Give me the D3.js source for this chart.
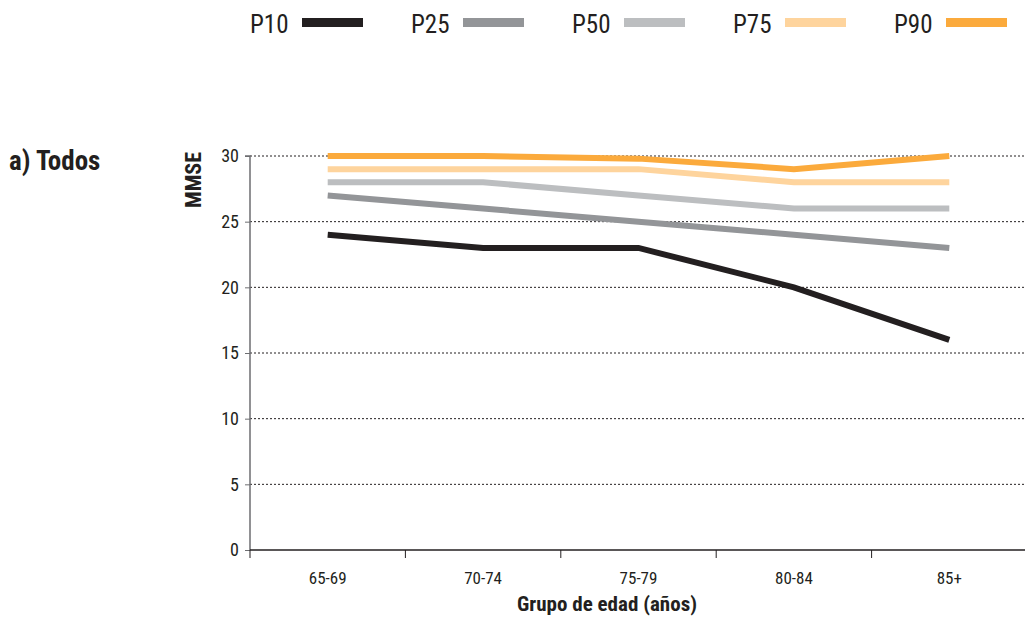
<!DOCTYPE html>
<html>
<head>
<meta charset="utf-8">
<script src="https://cdn.jsdelivr.net/npm/d3@7"></script>
<style>
  html, body { margin: 0; padding: 0; background: #fff; }
  svg { display: block; }
  .cond { font-family: "Liberation Sans Narrow", "Roboto Condensed", "Liberation Sans", sans-serif; }
</style>
</head>
<body>
<svg id="chart" width="1025" height="618"></svg>
<script>
// Age groups and MMSE percentiles
const ageGroups = ["65-69", "70-74", "75-79", "80-84", "85+"];
const p10 = [24, 23, 23, 20, 16];
const p25 = [27, 26, 25, 24, 23];
const p50 = [28, 28, 27, 26, 26];
const p75 = [29, 29, 29, 28, 28];
const p90 = [30, 30, 29.8, 29, 30];
const seriesNames = ["P10", "P25", "P50", "P75", "P90"];
const seriesColors = ["#231f20", "#939598", "#bcbec0", "#fed49d", "#fbaa3c"];
const yTicks = [0, 5, 10, 15, 20, 25, 30];

const series = [p10, p25, p50, p75, p90].map((values, i) => ({
  name: seriesNames[i], color: seriesColors[i], values
}));

const svg = d3.select("#chart");
const plotLeft = 250, plotRight = 1027, plotTop = 156, plotBottom = 550;

const x = d3.scaleBand().domain(ageGroups).range([plotLeft, plotRight]);
const y = d3.scaleLinear().domain([0, 30]).range([plotBottom, plotTop]);

// dotted gridlines
svg.append("g").selectAll("line")
  .data(yTicks.filter(d => d > 0))
  .join("line")
  .attr("x1", plotLeft).attr("x2", 1025)
  .attr("y1", d => y(d)).attr("y2", d => y(d))
  .attr("stroke", "#231f20").attr("stroke-width", 1)
  .attr("stroke-dasharray", "2,2");

// y axis
const yAxis = svg.append("g")
  .attr("transform", `translate(${plotLeft},0)`)
  .call(d3.axisLeft(y).tickValues(yTicks).tickSize(5).tickPadding(6));
yAxis.select(".domain").attr("stroke", "#6d6e71").attr("stroke-width", 1.5)
  .attr("d", `M-5,${plotTop}H0V${plotBottom}`);
yAxis.selectAll(".tick line").attr("stroke", "#6d6e71");
yAxis.selectAll("text").attr("class", "cond")
  .style("font-size", "18px").attr("fill", "#231f20");

// x axis with ticks on category boundaries
const xAxis = svg.append("g").attr("transform", `translate(0,${plotBottom})`);
xAxis.append("line").attr("x1", plotLeft).attr("x2", 1025).attr("y1", 0).attr("y2", 0)
  .attr("stroke", "#231f20").attr("stroke-width", 1.5);
const bounds = ageGroups.map(d => x(d));
xAxis.selectAll("line.tk").data(bounds).join("line").attr("class", "tk")
  .attr("x1", d => d).attr("x2", d => d).attr("y1", 0).attr("y2", 8)
  .attr("stroke", "#231f20").attr("stroke-width", 1);
xAxis.selectAll("text").data(ageGroups).join("text")
  .attr("class", "cond")
  .attr("x", d => x(d) + x.bandwidth() / 2)
  .attr("y", 34)
  .attr("text-anchor", "middle")
  .style("font-size", "17px").attr("fill", "#231f20")
  .text(d => d);

// axis titles
svg.append("text").attr("class", "cond")
  .attr("x", 607).attr("y", 611).attr("text-anchor", "middle")
  .style("font-size", "21px").style("font-weight", "bold").attr("fill", "#231f20")
  .text("Grupo de edad (años)");
svg.append("text").attr("class", "cond")
  .attr("transform", "translate(201,180) rotate(-90)")
  .attr("text-anchor", "middle")
  .style("font-size", "22px").style("font-weight", "bold").attr("fill", "#231f20")
  .text("MMSE");
svg.append("text").attr("class", "cond")
  .attr("x", 9).attr("y", 170)
  .style("font-size", "27px").style("font-weight", "bold").attr("fill", "#231f20")
  .text("a) Todos");

// series lines
const line = d3.line()
  .x((d, i) => x(ageGroups[i]) + x.bandwidth() / 2)
  .y(d => y(d));
svg.append("g").selectAll("path")
  .data(series)
  .join("path")
  .attr("d", d => line(d.values))
  .attr("fill", "none")
  .attr("stroke", d => d.color)
  .attr("stroke-width", 6)
  .attr("stroke-linejoin", "miter");

// legend
const legend = svg.append("g").selectAll("g")
  .data(series).join("g")
  .attr("transform", (d, i) => `translate(${250 + i * 161},0)`);
legend.append("text").attr("class", "cond")
  .attr("x", 0).attr("y", 33)
  .style("font-size", "25px").attr("fill", "#231f20")
  .text(d => d.name);
legend.append("rect")
  .attr("x", 52).attr("y", 18).attr("width", 61).attr("height", 9)
  .attr("fill", d => d.color);
</script>
</body>
</html>
